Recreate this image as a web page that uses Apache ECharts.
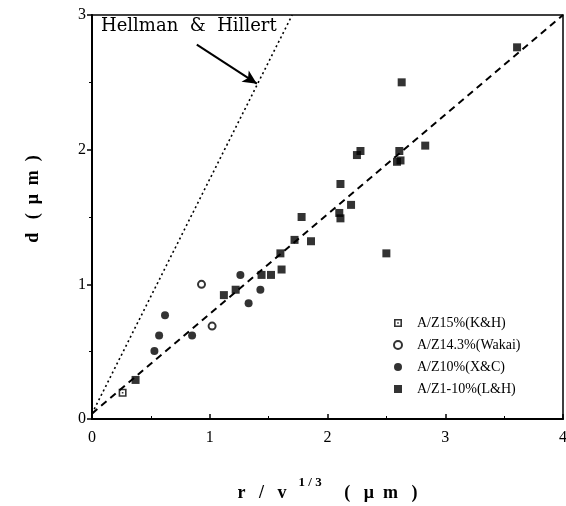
<!DOCTYPE html>
<html>
<head>
<meta charset="utf-8">
<script src="https://cdn.jsdelivr.net/npm/echarts@6/dist/echarts.min.js"></script>
<style>
  html, body { margin: 0; padding: 0; background: #fff; }
  #chart { width: 566px; height: 506px; }
</style>
</head>
<body>
<div id="chart"></div>
<script>
// data: [r / v^(1/3), d]
const khPoints = [[0.26, 0.195]]
const wakaiPoints = [[0.93, 1.0], [1.02, 0.69]]
const xcPoints = [
  [0.53, 0.505], [0.57, 0.62], [0.62, 0.77], [0.85, 0.62],
  [1.26, 1.07], [1.33, 0.86], [1.43, 0.96]
]
const lhPoints = [
  [0.37, 0.29], [1.12, 0.92], [1.22, 0.96], [1.44, 1.07], [1.52, 1.07],
  [1.61, 1.11], [1.60, 1.23], [1.72, 1.33], [1.78, 1.50], [1.86, 1.32],
  [2.10, 1.53], [2.11, 1.49], [2.11, 1.745], [2.20, 1.59], [2.25, 1.96],
  [2.28, 1.99], [2.50, 1.23], [2.59, 1.91], [2.62, 1.92], [2.61, 1.99],
  [2.63, 2.50], [2.83, 2.03], [3.61, 2.76]
]
const fitLine = [[0, 0.04], [4, 3.0]]
const hhLine = [[0, 0.04], [1.70, 3.0]]
const arrowFrom = [0.89, 2.78]
const arrowTo = [1.40, 2.49]
const xTicks = [0, 1, 2, 3, 4]
const yTicks = [0, 1, 2, 3]

const serif = 'Liberation Serif'
const khSymbol = 'path://M0,0H10V10H0Z M2,2V8H8V2Z M4,4H6V6H4Z'

const myChart = echarts.init(document.getElementById('chart'))

const option = {
  animation: false,
  backgroundColor: '#fff',
  grid: {
    left: 92,
    right: 3,
    top: 15,
    bottom: 87,
    outerBoundsMode: 'none',
    show: true,
    borderColor: '#000',
    borderWidth: 1.5
  },
  legend: {
    orient: 'vertical',
    left: 388,
    top: 311,
    itemWidth: 8,
    itemHeight: 8,
    itemGap: 8,
    textStyle: {
      color: '#000',
      fontFamily: serif,
      fontSize: 14,
      padding: [0, 0, 0, 10]
    },
    data: ['A/Z15%(K&H)', 'A/Z14.3%(Wakai)', 'A/Z10%(X&C)', 'A/Z1-10%(L&H)']
  },
  xAxis: {
    type: 'value',
    min: 0,
    max: 4,
    interval: 1,
    name: '{a|r   /   v  }{s|1 / 3}{a|     (   μ  m   )}',
    nameLocation: 'middle',
    nameGap: 57,
    nameTextStyle: {
      rich: {
        a: { fontFamily: serif, fontSize: 18, fontWeight: 'bold', color: '#000', lineHeight: 26, verticalAlign: 'bottom' },
        s: { fontFamily: serif, fontSize: 13, fontWeight: 'bold', color: '#000', lineHeight: 26, verticalAlign: 'top', padding: [0, 0, 0, 3] }
      }
    },
    axisLine: { show: true, onZero: false, lineStyle: { color: '#000', width: 2 } },
    axisTick: { show: true, inside: true, length: 5, lineStyle: { color: '#000', width: 1.5 } },
    minorTick: { show: true, splitNumber: 2, length: 3, lineStyle: { color: '#000' } },
    axisLabel: {
      color: '#000',
      fontFamily: serif,
      fontSize: 16,
      margin: 11,
      formatter: (v) => (xTicks.includes(v) ? String(v) : '')
    },
    splitLine: { show: false }
  },
  yAxis: {
    type: 'value',
    min: 0,
    max: 3,
    interval: 1,
    name: '        d   (  μ  m  )',
    nameLocation: 'middle',
    nameGap: 50,
    nameTextStyle: {
      color: '#000',
      fontFamily: serif,
      fontSize: 18,
      fontWeight: 'bold'
    },
    axisLine: { show: true, onZero: false, lineStyle: { color: '#000', width: 2 } },
    axisTick: { show: true, length: 5, lineStyle: { color: '#000', width: 1.5 } },
    minorTick: { show: true, splitNumber: 2, length: 3, lineStyle: { color: '#000' } },
    axisLabel: {
      color: '#000',
      fontFamily: serif,
      fontSize: 16,
      margin: 6,
      formatter: (v) => (yTicks.includes(v) ? String(v) : '')
    },
    splitLine: { show: false }
  },
  graphic: [
    {
      type: 'text',
      left: 101,
      top: 17,
      style: {
        text: 'Hellman  &  Hillert',
        fill: '#000',
        font: '18px "DejaVu Serif"'
      }
    }
  ],
  series: [
    {
      name: 'fit',
      type: 'line',
      data: fitLine,
      symbol: 'none',
      lineStyle: { color: '#000', width: 2, type: [7, 5] },
      z: 1
    },
    {
      name: 'hh',
      type: 'line',
      data: hhLine,
      symbol: 'none',
      lineStyle: { color: '#000', width: 1.6, type: [2, 3] },
      markLine: {
        silent: true,
        symbol: ['none', 'arrow'],
        symbolSize: [10, 14],
        label: { show: false },
        lineStyle: { color: '#000', width: 2, type: 'solid' },
        data: [[{ coord: arrowFrom }, { coord: arrowTo }]]
      },
      z: 1
    },
    {
      name: 'A/Z15%(K&H)',
      type: 'scatter',
      data: khPoints,
      symbol: khSymbol,
      symbolSize: 8,
      itemStyle: { color: '#000' }
    },
    {
      name: 'A/Z14.3%(Wakai)',
      type: 'scatter',
      data: wakaiPoints,
      symbol: 'emptyCircle',
      symbolSize: 7,
      itemStyle: { color: '#000', borderColor: '#000', borderWidth: 1.5 }
    },
    {
      name: 'A/Z10%(X&C)',
      type: 'scatter',
      data: xcPoints,
      symbol: 'circle',
      symbolSize: 8,
      itemStyle: { color: '#000' }
    },
    {
      name: 'A/Z1-10%(L&H)',
      type: 'scatter',
      data: lhPoints,
      symbol: 'rect',
      symbolSize: 8,
      itemStyle: { color: '#000' }
    }
  ]
}

myChart.setOption(option)
</script>
</body>
</html>
